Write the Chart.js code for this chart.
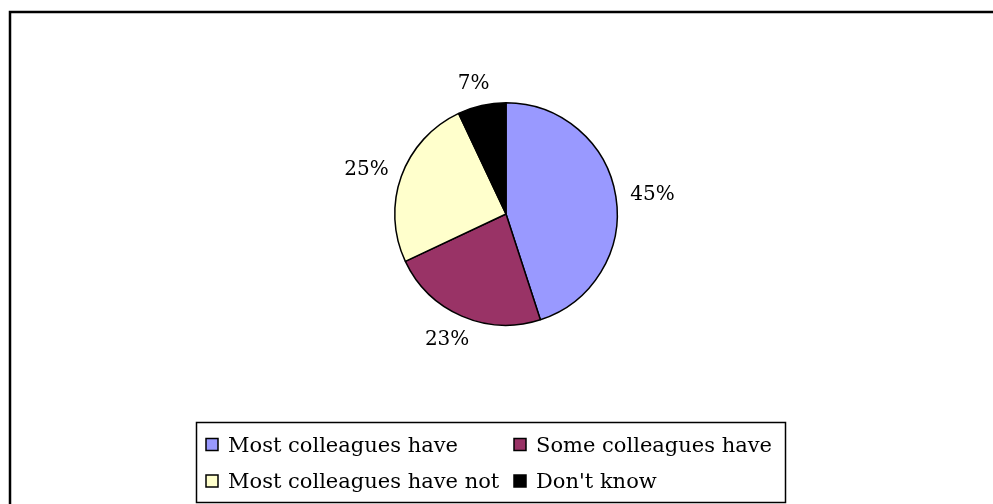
<!DOCTYPE html>
<html lang="en">
  <head>
    <title>Colleagues survey</title>
    <meta charset="UTF-8" />
    <script src="https://cdn.jsdelivr.net/npm/chart.js@4.4.1/dist/chart.umd.min.js"></script>
    <style>
      body { margin: 0; background: #fff; }
    </style>
  </head>

  <body>
    <canvas id="chart" width="993" height="504"></canvas>

    <script>
      const labels = [
        'Most colleagues have',
        'Some colleagues have',
        'Most colleagues have not',
        "Don't know",
      ]
      const values = [45, 23, 25, 7]
      const colors = ['#9999ff', '#993366', '#ffffcc', '#000000']

      const FONT = '"DejaVu Serif", serif'

      // outer frame, percentage labels and the boxed legend
      const decorations = {
        id: 'decorations',
        afterDraw(chart) {
          const ctx = chart.ctx
          ctx.save()

          // chart frame (runs off the right and bottom edges)
          ctx.strokeStyle = '#000'
          ctx.lineWidth = 2.5
          ctx.strokeRect(10, 12, 1000, 510)

          // percentage labels outside each slice
          ctx.fillStyle = '#000'
          ctx.font = '20px ' + FONT
          ctx.textAlign = 'center'
          ctx.textBaseline = 'middle'
          const arcs = chart.getDatasetMeta(0).data
          arcs.forEach((arc, i) => {
            const mid = (arc.startAngle + arc.endAngle) / 2
            const r = arc.outerRadius + 13
            const cx = arc.x + (r + 24) * Math.cos(mid)
            const cy = arc.y + (r + 11) * Math.sin(mid) + 2
            ctx.fillText(values[i] + '%', cx, cy)
          })

          // legend box
          ctx.font = '21px ' + FONT
          ctx.lineWidth = 1.5
          ctx.strokeRect(196.5, 422.5, 589, 80)
          ctx.textAlign = 'left'
          labels.forEach((label, i) => {
            const col = i % 2
            const row = Math.floor(i / 2)
            const x = 206 + col * 308
            const y = 444.5 + row * 36.5
            ctx.fillStyle = colors[i]
            ctx.fillRect(x, y - 6, 12, 12)
            ctx.lineWidth = 1.5
            ctx.strokeStyle = '#000'
            ctx.strokeRect(x, y - 6, 12, 12)
            ctx.fillStyle = '#000'
            ctx.fillText(label, x + 22, y + 2)
          })

          ctx.restore()
        },
      }

      new Chart(document.getElementById('chart'), {
        type: 'pie',
        data: {
          labels: labels,
          datasets: [
            {
              data: values,
              backgroundColor: colors,
              borderColor: '#000',
              borderWidth: 1.5,
            },
          ],
        },
        options: {
          responsive: false,
          animation: false,
          layout: {
            padding: { top: 102, bottom: 178, left: 394, right: 375 },
          },
          plugins: {
            legend: { display: false },
            tooltip: { enabled: false },
          },
        },
        plugins: [decorations],
      })
    </script>
  </body>
</html>
